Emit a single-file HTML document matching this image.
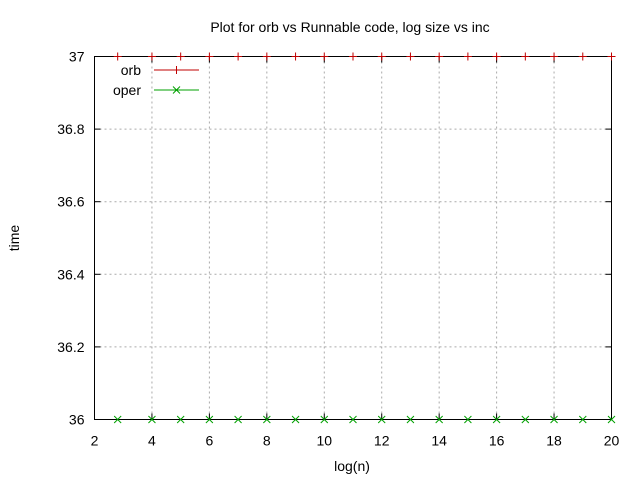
<!DOCTYPE html>
<html><head><meta charset="utf-8"><style>body{margin:0;background:#fff}svg{display:block}text{font-family:"Liberation Sans",sans-serif;font-size:14px;fill:#000}</style></head>
<body>
<svg id="c" width="640" height="480"></svg>
<script>
const xs=[2.807,4,5,6,7,8,9,10,11,12,13,14,15,16,17,18,19,20];
const orb=[37,37,37,37,37,37,37,37,37,37,37,37,37,37,37,37,37,37];
const oper=[36,36,36,36,36,36,36,36,36,36,36,36,36,36,36,36,36,36];
const xTicks=[2,4,6,8,10,12,14,16,18,20];
const yTicks=[36,36.2,36.4,36.6,36.8,37];
const yLabels=["36","36.2","36.4","36.6","36.8","37"];
const L=94.5,R=611.5,T=56.5,B=419.5;
const X=v=>L+(v-2)/18*(R-L), Y=v=>B-(v-36)/1*(B-T);
const s=document.getElementById('c'),NS='http://www.w3.org/2000/svg';
function el(t,a,txt){const e=document.createElementNS(NS,t);for(const k in a)e.setAttribute(k,a[k]);if(txt!=null)e.textContent=txt;s.appendChild(e);return e;}
xTicks.forEach(v=>{const x=X(v);
if(v>2&&v<20){const g=el('line',{x1:x,x2:x,y1:T,y2:B,stroke:'#aaa','stroke-dasharray':'2,3'});}
el('line',{x1:x,x2:x,y1:B,y2:B-6,stroke:'#000'});el('line',{x1:x,x2:x,y1:T,y2:T+6,stroke:'#000'});
const t=el('text',{x:x,y:B+26,'text-anchor':'middle'},String(v));});
yTicks.forEach((v,i)=>{const y=Y(v);
if(i>0&&i<yTicks.length-1){const g=el('line',{x1:L,x2:R,y1:y,y2:y,stroke:'#aaa','stroke-dasharray':'2,3'});}
el('line',{x1:L,x2:L+6,y1:y,y2:y,stroke:'#000'});el('line',{x1:R,x2:R-6,y1:y,y2:y,stroke:'#000'});
const t=el('text',{x:L-10,y:y+5,'text-anchor':'end'},yLabels[i]);});
const fr=el('rect',{x:L,y:T,width:R-L,height:B-T,fill:'none',stroke:'#000'});
function plus(x,y,c){el('line',{x1:x-4,x2:x+4,y1:y,y2:y,stroke:c});el('line',{x1:x,x2:x,y1:y-4,y2:y+4,stroke:c});}
function cross(x,y,c){el('path',{d:`M${x-3.5} ${y-3.5}L${x+3.5} ${y+3.5}M${x-3.5} ${y+3.5}L${x+3.5} ${y-3.5}`,stroke:c,fill:'none'});}
xs.forEach((v,i)=>{plus(X(v),Y(orb[i]),'#c00000');cross(X(v),Y(oper[i]),'#00a000');});
let t=el('text',{x:350,y:32,'text-anchor':'middle'},'Plot for orb vs Runnable code, log size vs inc');
t=el('text',{x:352,y:471,'text-anchor':'middle'},'log(n)');
t=el('text',{x:19,y:238,'text-anchor':'middle',transform:'rotate(-90 19 238)'},'time');
t=el('text',{x:141,y:75,'text-anchor':'end'},'orb');
el('line',{x1:154,x2:199,y1:70,y2:70,stroke:'#c00000'});plus(176.5,70,'#c00000');
t=el('text',{x:141,y:95,'text-anchor':'end'},'oper');
el('line',{x1:154,x2:199,y1:90,y2:90,stroke:'#00a000'});cross(176.5,90,'#00a000');
</script>
</body></html>
